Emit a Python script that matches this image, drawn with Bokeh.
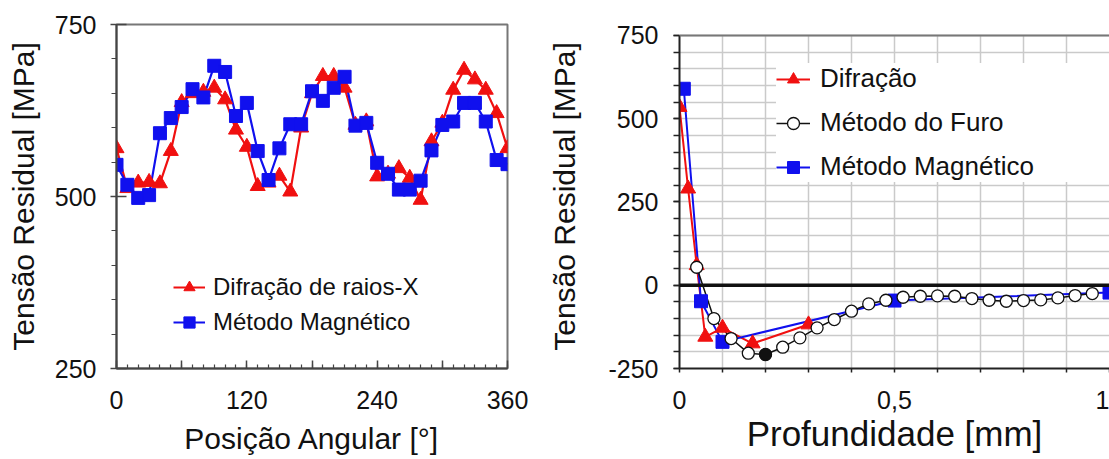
from bokeh.plotting import figure
from bokeh.models import (FixedTicker, CustomJSTickFormatter, Legend, LegendItem,
                          Span, Range1d)
from bokeh.layouts import row
from bokeh.embed import file_html
from bokeh.resources import INLINE

# ---------------- data: left chart (angular position) ----------------
angle_deg = list(range(0, 361, 10))
difr_raiosx = [570, 512, 520, 521, 519, 566, 637, 650, 652, 658,
               641, 597, 572, 515, 520, 530, 507, 600, 650, 675,
               675, 658, 604, 609, 529, 533, 541, 527, 495, 580,
               607, 655, 684, 670, 655, 621, 570]
magnetico_ang = [546, 517, 498, 502, 592, 614, 630, 656, 644, 690,
                 681, 617, 636, 566, 524, 570, 605, 605, 653, 639,
                 658, 674, 603, 607, 549, 533, 510, 510, 523, 567,
                 604, 609, 636, 636, 609, 553, 547]

# ---------------- data: right chart (depth profile) ----------------
depth_difr = [0.0, 0.02, 0.04, 0.06, 0.10, 0.17, 0.30]
stress_difr = [535, 290, 60, -155, -128, -175, -118]
depth_furo = [0.04, 0.08, 0.12, 0.16, 0.20, 0.24, 0.28, 0.32, 0.36, 0.40, 0.44, 0.48,
              0.52, 0.56, 0.60, 0.64, 0.68, 0.72, 0.76, 0.80, 0.84, 0.88, 0.92, 0.96]
stress_furo = [54, -100, -160, -204, -208, -186, -158, -128, -103, -78, -56, -45,
               -36, -33, -32, -33, -40, -45, -48, -46, -44, -38, -31, -25]
furo_highlight_index = 4
depth_mag = [0.01, 0.05, 0.10, 0.50, 1.00]
stress_mag = [590, -48, -170, -46, -22]

left_ticks_x = list(range(0, 361, 60))
right_ticks_x = [0.0, 0.1, 0.2, 0.3, 0.4, 0.5, 0.6, 0.7, 0.8, 0.9, 1.0]
right_ticks_y = [-250, 0, 250, 500, 750]

RED = "#f01010"
BLUE = "#1010ee"
FONT = "Liberation Sans"

def style_axes(p, title_size, tick_size):
    for ax in (p.xaxis[0], p.yaxis[0]):
        ax.axis_label_text_font = FONT
        ax.axis_label_text_font_style = "normal"
        ax.axis_label_text_color = "#111111"
        ax.major_label_text_font = FONT
        ax.major_label_text_font_size = tick_size
        ax.major_label_text_color = "#111111"
    p.xaxis[0].axis_label_text_font_size = title_size[0]
    p.yaxis[0].axis_label_text_font_size = title_size[1]

# ======================= LEFT FIGURE =======================
pl = figure(width=545, height=459, output_backend="svg", toolbar_location=None,
            x_range=Range1d(0, 360), y_range=Range1d(250, 750))
pl.min_border_left = 116
pl.min_border_right = 38
pl.min_border_top = 24
pl.min_border_bottom = 91
pl.outline_line_color = "#777777"
pl.outline_line_width = 2
pl.xgrid.visible = False
pl.ygrid.visible = False

pl.xaxis.axis_label = "Posição Angular [°]"
pl.yaxis.axis_label = "Tensão Residual [MPa]"
style_axes(pl, ("30px", "30px"), "25px")
pl.xaxis.ticker = FixedTicker(ticks=left_ticks_x, minor_ticks=angle_deg)
pl.xaxis.formatter = CustomJSTickFormatter(code="return (Math.round(tick) % 120 == 0) ? String(Math.round(tick)) : '';")
pl.xaxis.major_tick_in = 8
pl.xaxis.major_tick_out = 0
pl.xaxis.minor_tick_in = 4
pl.xaxis.minor_tick_out = 0
pl.xaxis.major_label_standoff = 22
pl.xaxis.axis_label_standoff = 10
pl.yaxis.ticker = FixedTicker(ticks=[250, 500, 750], minor_ticks=list(range(250, 751, 50)))
pl.yaxis.formatter = CustomJSTickFormatter(code="return String(Math.round(tick));")
pl.yaxis.major_tick_in = 10
pl.yaxis.major_tick_out = 6
pl.yaxis.minor_tick_in = 0
pl.yaxis.minor_tick_out = 5
pl.yaxis.major_label_standoff = 14
pl.yaxis.axis_label_standoff = 12
for ax in (pl.xaxis[0], pl.yaxis[0]):
    ax.axis_line_color = "#444444"
    ax.axis_line_width = 2
    ax.major_tick_line_color = "#444444"
    ax.minor_tick_line_color = "#444444"
    ax.major_tick_line_width = 1.5
    ax.minor_tick_line_width = 1.2

l_red_line = pl.line(angle_deg, difr_raiosx, line_color=RED, line_width=2.2)
l_blue_line = pl.line(angle_deg, magnetico_ang, line_color=BLUE, line_width=2.2)
l_red_pts = pl.scatter(angle_deg, difr_raiosx, marker="triangle", size=15,
                       fill_color=RED, line_color=RED)
l_blue_pts = pl.scatter(angle_deg, magnetico_ang, marker="square", size=13,
                        fill_color=BLUE, line_color=BLUE)

leg_l = Legend(items=[
    LegendItem(label="Difração de raios-X", renderers=[l_red_line, l_red_pts]),
    LegendItem(label="Método Magnético", renderers=[l_blue_line, l_blue_pts]),
], location=(57, 32))
leg_l.label_text_font = FONT
leg_l.label_text_font_size = "24px"
leg_l.label_text_color = "#111111"
leg_l.glyph_width = 32
leg_l.glyph_height = 28
leg_l.label_height = 28
leg_l.label_standoff = 8
leg_l.spacing = 7
leg_l.padding = 0
leg_l.margin = 0
leg_l.border_line_color = None
leg_l.background_fill_alpha = 0
pl.add_layout(leg_l)

# ======================= RIGHT FIGURE =======================
# frame tops are aligned by the row layout, so the value range is extended above 750
# and the axis / grid are bounded to the visible chart area
pr = figure(width=564, height=459, output_backend="svg", toolbar_location=None,
            x_range=Range1d(0, 1.0), y_range=Range1d(-250, 783))
pr.min_border_left = 134
pr.min_border_right = 0
pr.min_border_top = 24
pr.min_border_bottom = 91
pr.outline_line_color = None

pr.xaxis.axis_label = "Profundidade [mm]"
pr.yaxis.axis_label = "Tensão Residual [MPa]"
style_axes(pr, ("35px", "30px"), "25px")
pr.xaxis.ticker = FixedTicker(ticks=right_ticks_x)
pr.xaxis.formatter = CustomJSTickFormatter(code="""
if (Math.abs(tick) < 1e-9) return '0';
if (Math.abs(tick - 0.5) < 1e-9) return '0,5';
if (Math.abs(tick - 1) < 1e-9) return '1';
return '';
""")
pr.xaxis.major_tick_in = 0
pr.xaxis.major_tick_out = 4
pr.xaxis.major_label_standoff = 18
pr.xaxis.axis_label_standoff = 2
pr.yaxis.ticker = FixedTicker(ticks=right_ticks_y, minor_ticks=list(range(-250, 751, 50)))
pr.yaxis.formatter = CustomJSTickFormatter(code="return String(Math.round(tick));")
pr.yaxis.bounds = (right_ticks_y[0], right_ticks_y[-1])
pr.yaxis.major_tick_in = 0
pr.yaxis.major_tick_out = 6
pr.yaxis.minor_tick_in = 0
pr.yaxis.minor_tick_out = 6
pr.yaxis.major_label_standoff = 15
pr.yaxis.axis_label_standoff = 24
for ax in (pr.xaxis[0], pr.yaxis[0]):
    ax.axis_line_color = "#222222"
    ax.axis_line_width = 2
    ax.major_tick_line_color = "#222222"
    ax.minor_tick_line_color = "#222222"
    ax.major_tick_line_width = 1.5
    ax.minor_tick_line_width = 1.5

pr.xgrid.ticker = FixedTicker(ticks=right_ticks_x)
pr.ygrid.ticker = FixedTicker(ticks=list(range(-250, 751, 50)))
for g in (pr.xgrid[0], pr.ygrid[0]):
    g.grid_line_color = "#cacaca"
    g.grid_line_width = 1.5
if "cross_bounds" in pr.xgrid[0].properties():
    pr.xgrid[0].cross_bounds = (right_ticks_y[0], right_ticks_y[-1])

pr.add_layout(Span(location=750, dimension="width", line_color="#777777", line_width=2))
pr.add_layout(Span(location=0, dimension="width", line_color="#111111", line_width=3.5))

r_red_line = pr.line(depth_difr, stress_difr, line_color=RED, line_width=2)
r_blue_line = pr.line(depth_mag, stress_mag, line_color=BLUE, line_width=2)
r_furo_line = pr.line(depth_furo, stress_furo, line_color="#111111", line_width=1.5)
r_red_pts = pr.scatter(depth_difr, stress_difr, marker="triangle", size=15,
                       fill_color=RED, line_color=RED)
r_blue_pts = pr.scatter(depth_mag, stress_mag, marker="square", size=13,
                        fill_color=BLUE, line_color=BLUE)
r_furo_pts = pr.scatter(depth_furo, stress_furo, marker="circle", size=12,
                        fill_color="white", line_color="#111111", line_width=1.3)
pr.scatter([depth_furo[furo_highlight_index]], [stress_furo[furo_highlight_index]],
           marker="circle", size=12, fill_color="#111111", line_color="#111111")

leg_r = Legend(items=[
    LegendItem(label="Difração", renderers=[r_red_line, r_red_pts]),
    LegendItem(label="Método do Furo", renderers=[r_furo_line, r_furo_pts]),
    LegendItem(label="Método Magnético", renderers=[r_blue_line, r_blue_pts]),
], location=(97, 186))
leg_r.label_text_font = FONT
leg_r.label_text_font_size = "26px"
leg_r.label_text_color = "#111111"
leg_r.glyph_width = 34
leg_r.glyph_height = 30
leg_r.label_height = 30
leg_r.label_width = 289
leg_r.label_standoff = 10
leg_r.spacing = 13
leg_r.padding = 10
leg_r.margin = 0
leg_r.border_line_color = None
leg_r.background_fill_color = "white"
leg_r.background_fill_alpha = 1
pr.add_layout(leg_r)

layout = row(pl, pr)
open("out.html", "w").write(file_html(layout, INLINE))
